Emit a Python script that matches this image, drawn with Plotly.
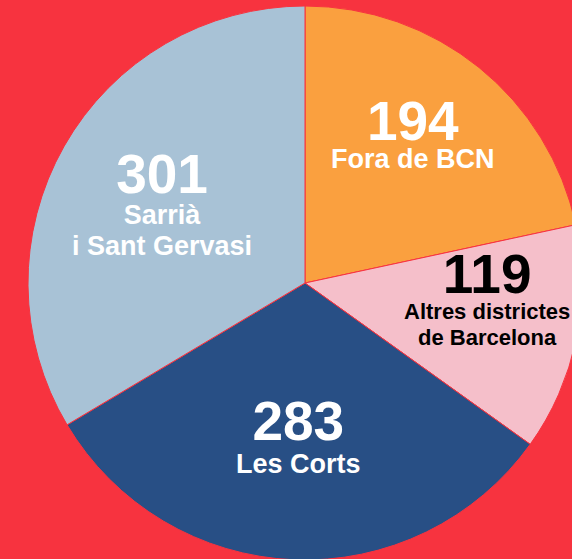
import plotly.graph_objects as go

# Data
labels = ["Fora de BCN", "Altres districtes de Barcelona", "Les Corts", "Sarrià i Sant Gervasi"]
label_lines = [["Fora de BCN"], ["Altres districtes", "de Barcelona"], ["Les Corts"], ["Sarrià", "i Sant Gervasi"]]
values = [194, 119, 283, 301]

# Styles
colors = ["#FAA03F", "#F5BFCA", "#284F85", "#A8C2D6"]
text_colors = ["#FFFFFF", "#000000", "#FFFFFF", "#FFFFFF"]
label_sizes = [27, 22, 27, 27]
line_gap = [21.5, 20, 25.4, 23.85]   # base font size -> line spacing (1.3 em)
NUM_SIZE = 55
BG = "#F7333F"

W, H = 600, 580  # figure larger than the window: the pie is cropped at right/bottom
cx, cy, r = 305, 283, 277

# text layout (pixel centre of each text group)
group_pos = [(413, 132), (487, 296.5), (298, 434.5), (162, 202)]

fig = go.Figure(go.Pie(
    labels=labels,
    values=values,
    sort=False,
    direction="clockwise",
    rotation=0,
    marker=dict(colors=colors, line=dict(color=BG, width=1)),
    textinfo="none",
    hoverinfo="label+value",
    showlegend=False,
    domain=dict(x=[(cx - r) / W, (cx + r) / W], y=[1 - (cy + r) / H, 1 - (cy - r) / H]),
))

FONT = "Liberation Sans, Arial, Helvetica, sans-serif"
ann = []
for i, v in enumerate(values):
    px, py = group_pos[i]
    parts = [f"<span style='font-size:{NUM_SIZE}px'><b>{v}</b></span>"]
    parts += [f"<span style='font-size:{label_sizes[i]}px'><b>{line}</b></span>" for line in label_lines[i]]
    ann.append(dict(x=px / W, y=1 - py / H, xref="paper", yref="paper", text="<br>".join(parts),
                    showarrow=False, xanchor="center", yanchor="middle", align="center",
                    font=dict(family=FONT, size=line_gap[i], color=text_colors[i])))

fig.update_layout(
    width=W, height=H,
    margin=dict(l=0, r=0, t=0, b=0),
    paper_bgcolor=BG, plot_bgcolor=BG,
    annotations=ann,
)

fig.write_html(
    "out.html",
    config={"displayModeBar": False},
    post_script="document.body.style.margin='0';document.body.style.overflow='hidden';"
                "document.documentElement.style.overflow='hidden';document.body.style.background='" + BG + "';",
)
